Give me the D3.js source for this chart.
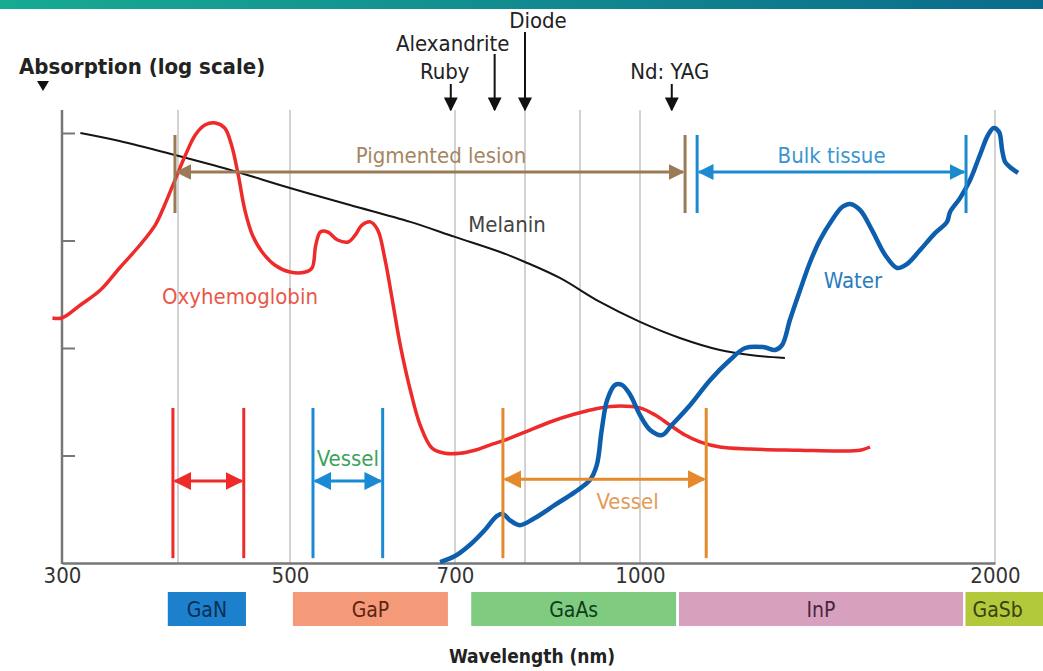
<!DOCTYPE html>
<html>
<head>
<meta charset="utf-8">
<script src="https://cdn.jsdelivr.net/npm/d3@7"></script>
<style>
  body { margin: 0; background: #fff; }
  svg text { font-family: "DejaVu Sans Condensed", "Liberation Sans Narrow", "Roboto", sans-serif; }
</style>
</head>
<body>
<svg id="chart"></svg>
<script>
// wavelength (nm) / absorption (log scale, arbitrary units)
let oxyWave = [293,300,314,330,346,364,378,387,397,406,414,422,431,439,445,451,457,464,473,485,500,516,523,527,532,540,551,563,571,579,589,598,607,616,626,639,652,668,686,707,727,748,770,800,844,890,932,966,1000,1030,1060,1092,1124,1169,1240,1367,1478,1537,1567];
let oxyAbs = [19,19,25.1,34.6,55.5,90.8,139,214,365,624,958,1186,1239,1113,773,407,192,112,78.2,59.2,50.9,50.9,55.5,90.8,120,120,101,96.8,112,139,149,125,65.9,28,10.7,4.07,1.92,1.17,1.05,1.05,1.12,1.25,1.39,1.65,2.05,2.43,2.77,2.89,2.77,2.38,1.92,1.55,1.34,1.2,1.15,1.12,1.1,1.12,1.2];

let melWave = [314,346,397,444,500,565,639,700,763,800,862,932,1000,1081,1169,1240,1327];
let melAbs = [1000,843,624,453,308,214,149,108,78.2,63.1,44.8,26.8,17.5,12.4,9.58,8.61,8.07];

let waterWave = [679,700,720,741,758,767,777,792,817,853,890,916,927,935,944,957,969,983,1000,1020,1044,1064,1103,1147,1192,1228,1272,1302,1320,1340,1367,1394,1421,1455,1484,1507,1537,1573,1614,1652,1684,1728,1779,1821,1832,1868,1905,1942,1973,1995,2016,2028,2040,2059,2092];
let waterAbs = [0.102,0.116,0.147,0.203,0.273,0.286,0.251,0.225,0.262,0.347,0.457,0.592,0.817,1.73,3.28,4.53,4.53,3.66,2.38,1.73,1.55,1.92,2.95,5.04,7.73,10,10.2,9.58,10.7,18.2,34.6,63.1,101,155,205,219,192,125,73.3,55.5,60.4,81.6,117,149,184,248,365,624,958,1113,1021,695,537,483,425];

let gridWaves = [400,500,700,800,900,1000,2000];
let tickWaves = [300,500,700,1000,2000];
let absTicks = [1,10,100,1000];

let lasers = ["Ruby","Alexandrite","Diode","Nd: YAG"];
let laserWaves = [694,755,800,1064];

let chipNames = ["GaN","GaP","GaAs","InP","GaSb"];
let chipFrom = [390,503,722,1079,1888];
let chipTo = [458,690,1073,1879,2200];

// target ranges in nm
let rangeNames = ["Pigmented lesion","Bulk tissue","","Vessel","Vessel"];
let rangeFrom = [397,1118,395,524,767];
let rangeTo = [1092,1890,456,604,1138];

const W = 1043, H = 671;
const svg = d3.select("#chart").attr("width", W).attr("height", H);

const x = d3.scaleLog()
  .domain([300,400,500,700,800,900,1000,2000])
  .range([62,178,290,455,525,580,640,995]);
const y = d3.scaleLog().domain([0.1, 1000]).range([563, 133]);
const plotTop = 110;

// header bar
const defs = svg.append("defs");
const grad = defs.append("linearGradient").attr("id", "hdr");
grad.append("stop").attr("offset", "0%").attr("stop-color", "#17ab92");
grad.append("stop").attr("offset", "100%").attr("stop-color", "#0b6b8c");
svg.append("rect").attr("x", 0).attr("y", 0).attr("width", W).attr("height", 9).attr("fill", "url(#hdr)");

// arrow markers
function marker(id, color, size) {
  defs.append("marker").attr("id", id)
    .attr("viewBox", "0 0 10 10").attr("refX", 9).attr("refY", 5)
    .attr("markerUnits", "userSpaceOnUse")
    .attr("markerWidth", size).attr("markerHeight", size)
    .attr("orient", "auto-start-reverse")
    .append("path").attr("d", "M0,0L10,5L0,10Z").attr("fill", color);
}

// grid lines
svg.append("g").selectAll("line").data(gridWaves).join("line")
  .attr("x1", d => x(d)).attr("x2", d => x(d))
  .attr("y1", plotTop).attr("y2", 563)
  .attr("stroke", "#c4c4c4").attr("stroke-width", 1.5);

// y axis
const yAxis = svg.append("g").attr("transform", "translate(62,0)")
  .call(d3.axisRight(y).tickValues(absTicks).tickSize(13).tickFormat(""));
yAxis.select(".domain").remove();
yAxis.selectAll("line").attr("stroke", "#777").attr("stroke-width", 2);
svg.append("line").attr("x1", 62).attr("x2", 62).attr("y1", plotTop).attr("y2", 564)
  .attr("stroke", "#777").attr("stroke-width", 2.5);

// x axis
const xAxis = svg.append("g").attr("transform", "translate(0,563)")
  .call(d3.axisBottom(x).tickValues(tickWaves).tickSize(0).tickPadding(4).tickFormat(d3.format("d")));
xAxis.select(".domain").attr("stroke", "#777").attr("stroke-width", 2.5);
xAxis.attr("font-size", null);
xAxis.selectAll("text").style("font-size", "22px").attr("fill", "#333");

// curves
const line = d3.line().x(d => x(d[0])).y(d => y(d[1])).curve(d3.curveCatmullRom.alpha(0.5));
svg.append("path").datum(d3.zip(melWave, melAbs)).attr("d", line)
  .attr("fill", "none").attr("stroke", "#151515").attr("stroke-width", 2);
svg.append("path").datum(d3.zip(oxyWave, oxyAbs)).attr("d", line)
  .attr("fill", "none").attr("stroke", "#ee2a2a").attr("stroke-width", 3.5);
svg.append("path").datum(d3.zip(waterWave, waterAbs)).attr("d", line)
  .attr("fill", "none").attr("stroke", "#0d5fae").attr("stroke-width", 4.5);

// curve labels
svg.append("text").attr("x", 240).attr("y", 304).attr("text-anchor", "middle")
  .attr("font-size", 22).attr("fill", "#e8584a").text("Oxyhemoglobin");
svg.append("text").attr("x", 507).attr("y", 232).attr("text-anchor", "middle")
  .attr("font-size", 22).attr("fill", "#444").text("Melanin");
svg.append("text").attr("x", 853).attr("y", 288).attr("text-anchor", "middle")
  .attr("font-size", 22).attr("fill", "#2a7bc0").text("Water");

// range brackets
const rangeColor = ["#9b7a56","#1c8ad0","#ee2a2a","#1a8ad4","#e58a2c"];
const textColor = ["#a6855f","#3a94d0","#000","#3aa35a","#e39a55"];
const bracketTop = [958,958,2.77,2.77,2.77];
const bracketBot = [180,180,0.111,0.111,0.111];
const arrowAt = [434,434,0.579,0.579,0.6];
const labelAt = [526,526,0,0.8,0.318];
rangeNames.forEach((name, i) => {
  marker("m" + i, rangeColor[i], i < 2 ? 16 : 18);
  const g = svg.append("g");
  [rangeFrom[i], rangeTo[i]].forEach(w => {
    g.append("line").attr("x1", x(w)).attr("x2", x(w))
      .attr("y1", y(bracketTop[i])).attr("y2", y(bracketBot[i]))
      .attr("stroke", rangeColor[i]).attr("stroke-width", 3);
  });
  g.append("line")
    .attr("x1", x(rangeFrom[i]) + 2).attr("x2", x(rangeTo[i]) - 2)
    .attr("y1", y(arrowAt[i])).attr("y2", y(arrowAt[i]))
    .attr("stroke", rangeColor[i]).attr("stroke-width", 3)
    .attr("marker-start", "url(#m" + i + ")").attr("marker-end", "url(#m" + i + ")");
  if (name) {
    const xm = i == 4 ? (x(rangeFrom[i]) + x(rangeTo[i])) / 2 + 23 : (x(rangeFrom[i]) + x(rangeTo[i])) / 2;
    g.append("text").attr("x", i == 0 ? xm + 11 : xm).attr("y", y(labelAt[i]))
      .attr("text-anchor", "middle").attr("font-size", 22).attr("fill", textColor[i]).text(name);
  }
});

// laser arrows
marker("ml", "#111", 14);
const laserTop = [84, 54, 32, 84];
const laserLabelY = [79, 51, 28, 79];
const laserDx = [-6, -42, 13, -2];
lasers.forEach((name, i) => {
  svg.append("line").attr("x1", x(laserWaves[i])).attr("x2", x(laserWaves[i]))
    .attr("y1", laserTop[i]).attr("y2", plotTop)
    .attr("stroke", "#111").attr("stroke-width", 2)
    .attr("marker-end", "url(#ml)");
  svg.append("text").attr("x", x(laserWaves[i]) + laserDx[i]).attr("y", laserLabelY[i])
    .attr("text-anchor", "middle").attr("font-size", 22).attr("fill", "#222").text(name);
});

// y title
svg.append("text").attr("x", 19).attr("y", 74).attr("font-size", 22).attr("font-weight", "bold")
  .attr("fill", "#222").text("Absorption (log scale)");
svg.append("path").attr("d", "M37,81L49,81L43,91Z").attr("fill", "#111");

// semiconductor bands
const chipFill = ["#1c80cc","#f59a78","#7fcb80","#d7a1bd","#b3c93c"];
const chipText = ["#0b2e55","#5c2412","#0f3d1c","#4a2340","#3b4210"];
const chips = svg.append("g");
chipNames.forEach((name, i) => {
  chips.append("rect").attr("x", x(chipFrom[i])).attr("y", 592)
    .attr("width", x(chipTo[i]) - x(chipFrom[i])).attr("height", 34)
    .attr("fill", chipFill[i]);
  chips.append("text").attr("x", i == 4 ? x(chipFrom[i]) + 7 : (x(chipFrom[i]) + x(chipTo[i])) / 2)
    .attr("y", 617).attr("text-anchor", i == 4 ? "start" : "middle")
    .attr("font-size", 21).attr("fill", chipText[i]).text(name);
});

svg.append("text").attr("x", 532).attr("y", 663).attr("text-anchor", "middle")
  .attr("font-size", 19).attr("font-weight", "bold").attr("fill", "#222").text("Wavelength (nm)");
</script>
</body>
</html>
